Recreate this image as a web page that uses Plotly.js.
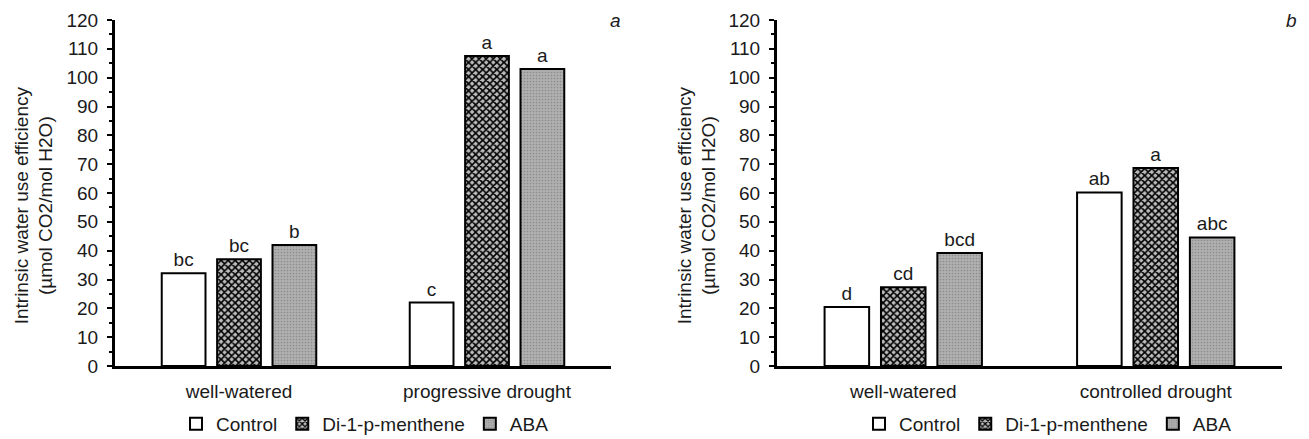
<!DOCTYPE html>
<html>
<head>
<meta charset="utf-8">
<script src="https://cdn.plot.ly/plotly-3.0.1.min.js"></script>
<style>
  html, body { margin: 0; padding: 0; background: #fff; }
  #chart { width: 1309px; height: 439px; }
</style>
</head>
<body>
<div id="chart"></div>
<script>
// Panel a: progressive drought experiment
const categoriesA = ['well-watered', 'progressive drought'];
const controlA = [32.2, 22.0];
const mentheneA = [37.0, 107.5];
const abaA = [42.0, 103.0];
const lettersControlA = ['bc', 'c'];
const lettersMentheneA = ['bc', 'a'];
const lettersAbaA = ['b', 'a'];

// Panel b: controlled drought experiment
const categoriesB = ['well-watered', 'controlled drought'];
const controlB = [20.5, 60.2];
const mentheneB = [27.3, 68.7];
const abaB = [39.2, 44.6];
const lettersControlB = ['d', 'ab'];
const lettersMentheneB = ['cd', 'a'];
const lettersAbaB = ['bcd', 'abc'];

const treatments = ['Control', 'Di-1-p-menthene', 'ABA'];
const yTitle = 'Intrinsic water use efficiency<br>(µmol CO2/mol H2O)';

const FONT = 'Liberation Sans, Arial, sans-serif';
const TXT = '#1a1a1a';
const FS = 19;
const H = 439;
const W = 1309;

const styles = [
  { color: '#ffffff', line: { color: '#000', width: 2 } },
  { color: '#ffffff', line: { color: '#000', width: 2 },
    pattern: { shape: 'x', fgcolor: '#000000', bgcolor: '#bcbcbc', size: 5, solidity: 0.55 } },
  { color: '#a9a9a9', line: { color: '#000', width: 2 },
    pattern: { shape: '.', fgcolor: '#8c8c8c', bgcolor: '#b0b0b0', size: 3, solidity: 0.25 } }
];

function bar(name, cats, vals, letters, idx, xa, ya, legend) {
  return {
    type: 'bar', name: name, x: cats, y: vals,
    xaxis: xa, yaxis: ya, legend: legend,
    marker: styles[idx],
    text: letters, textposition: 'outside', constraintext: 'none',
    textfont: { family: FONT, size: FS, color: TXT },
    cliponaxis: false, hoverinfo: 'x+y+name'
  };
}

const data = [
  bar(treatments[0], categoriesA, controlA, lettersControlA, 0, 'x', 'y', 'legend'),
  bar(treatments[1], categoriesA, mentheneA, lettersMentheneA, 1, 'x', 'y', 'legend'),
  bar(treatments[2], categoriesA, abaA, lettersAbaA, 2, 'x', 'y', 'legend'),
  bar(treatments[0], categoriesB, controlB, lettersControlB, 0, 'x2', 'y2', 'legend2'),
  bar(treatments[1], categoriesB, mentheneB, lettersMentheneB, 1, 'x2', 'y2', 'legend2'),
  bar(treatments[2], categoriesB, abaB, lettersAbaB, 2, 'x2', 'y2', 'legend2')
];

const xAxisStyle = {
  showline: true, linecolor: '#000', linewidth: 3,
  ticks: '', showgrid: false, zeroline: false,
  tickfont: { family: FONT, size: FS, color: TXT },
  ticklabelstandoff: 6, automargin: false
};
const yAxisStyle = {
  range: [0, 120], dtick: 10, tick0: 0,
  showline: true, linecolor: '#000', linewidth: 3,
  ticks: 'outside', ticklen: 5, tickwidth: 2, tickcolor: '#000',
  minor: { dtick: 5, ticks: 'outside', ticklen: 3, tickwidth: 2, tickcolor: '#000', showgrid: false },
  showgrid: false, zeroline: false,
  tickfont: { family: FONT, size: FS, color: TXT },
  ticklabelstandoff: 5, automargin: false
};

const legendStyle = {
  orientation: 'h', xanchor: 'center', yanchor: 'middle',
  xref: 'container', yref: 'container',
  font: { family: FONT, size: FS, color: TXT },
  bgcolor: 'rgba(0,0,0,0)', itemclick: false, itemdoubleclick: false
};

const layout = {
  width: W, height: H,
  margin: { l: 0, r: 0, t: 20, b: 73, autoexpand: false },
  paper_bgcolor: '#fff', plot_bgcolor: '#fff',
  barmode: 'group', bargap: 0.33, bargroupgap: 0.21,
  xaxis: Object.assign({ domain: [115 / W, 611 / W], anchor: 'y' }, xAxisStyle),
  yaxis: Object.assign({ anchor: 'x' }, yAxisStyle),
  xaxis2: Object.assign({ domain: [777 / W, 1282 / W], anchor: 'y2' }, xAxisStyle),
  yaxis2: Object.assign({ anchor: 'x2' }, yAxisStyle),
  legend: Object.assign({ x: 365 / W, y: 1 - 424 / H }, legendStyle),
  legend2: Object.assign({ x: 1048 / W, y: 1 - 424 / H }, legendStyle),
  showlegend: true,
  annotations: [
    { text: yTitle, xref: 'paper', yref: 'paper', x: 33.5 / W, y: 0.463,
      textangle: -90, showarrow: false, xanchor: 'center', yanchor: 'middle',
      font: { family: FONT, size: 19, color: TXT } },
    { text: yTitle, xref: 'paper', yref: 'paper', x: 696.5 / W, y: 0.463,
      textangle: -90, showarrow: false, xanchor: 'center', yanchor: 'middle',
      font: { family: FONT, size: 19, color: TXT } },
    { text: '<i>a</i>', xref: 'paper', yref: 'paper', x: 615 / W, y: 1.0,
      showarrow: false, xanchor: 'center', yanchor: 'middle',
      font: { family: FONT, size: FS, color: TXT } },
    { text: '<i>b</i>', xref: 'paper', yref: 'paper', x: 1291 / W, y: 1.0,
      showarrow: false, xanchor: 'center', yanchor: 'middle',
      font: { family: FONT, size: FS, color: TXT } }
  ]
};

Plotly.newPlot('chart', data, layout, { displayModeBar: false, staticPlot: true });
</script>
</body>
</html>
